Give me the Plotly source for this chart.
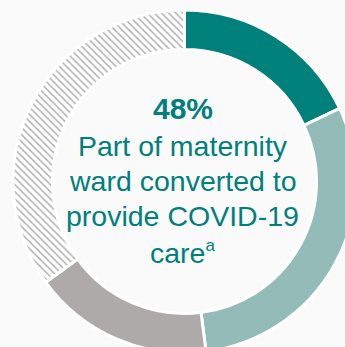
import plotly.graph_objects as go

# Share of maternity wards by COVID-19 conversion status
categories = ["Converted (part A)", "Converted (part B)", "Not converted", "No response"]
values = [18, 30, 17, 35]
colors = ["#00807b", "#93bbb8", "#aeaaa9", "#ffffff"]
patterns = ["", "", "", "\\"]

headline = "48%"
caption_lines = [
    "Part of maternity",
    "ward converted to",
    "provide COVID-19",
    "care<sup><span style='font-size:17px'>a</span></sup>",
]

W, H = 369, 363
cx, cy, r = 184.5, 181.5, 171.5
text_color = "#00807b"
font_family = "Liberation Sans, Arial, sans-serif"

fig = go.Figure(
    go.Pie(
        labels=categories,
        values=values,
        hole=0.77,
        sort=False,
        direction="clockwise",
        rotation=0,
        textinfo="none",
        hoverinfo="label+percent",
        marker=dict(
            colors=colors,
            line=dict(color="#ffffff", width=3),
            pattern=dict(
                shape=patterns,
                fgcolor="#b2b2b2",
                bgcolor="#ffffff",
                size=5,
                solidity=0.3,
            ),
        ),
        domain=dict(x=[(cx - r) / W, (cx + r) / W], y=[1 - (cy + r) / H, 1 - (cy - r) / H]),
        showlegend=False,
    )
)

# centre label: headline figure followed by the caption, one line per annotation
text_x = 182.5 / W
fig.add_annotation(
    x=text_x, y=1 - 108 / H, xref="paper", yref="paper",
    xanchor="center", yanchor="middle", showarrow=False,
    text="<b>" + headline + "</b>",
    font=dict(family=font_family, size=30, color=text_color),
)
line_mid = [146, 181, 216, 252]
for line, ym in zip(caption_lines, line_mid):
    fig.add_annotation(
        x=text_x, y=1 - ym / H, xref="paper", yref="paper",
        xanchor="center", yanchor="middle", showarrow=False,
        text=line,
        font=dict(family=font_family, size=28.5, color=text_color),
    )

fig.update_layout(
    width=W,
    height=H,
    autosize=False,
    margin=dict(l=0, r=0, t=0, b=0),
    paper_bgcolor="#fafafa",
    plot_bgcolor="#fafafa",
)

fig.write_html(
    "out.html",
    config={"displayModeBar": False},
    post_script="document.documentElement.style.overflow='hidden';document.body.style.overflow='hidden';document.body.style.margin='0';",
)
